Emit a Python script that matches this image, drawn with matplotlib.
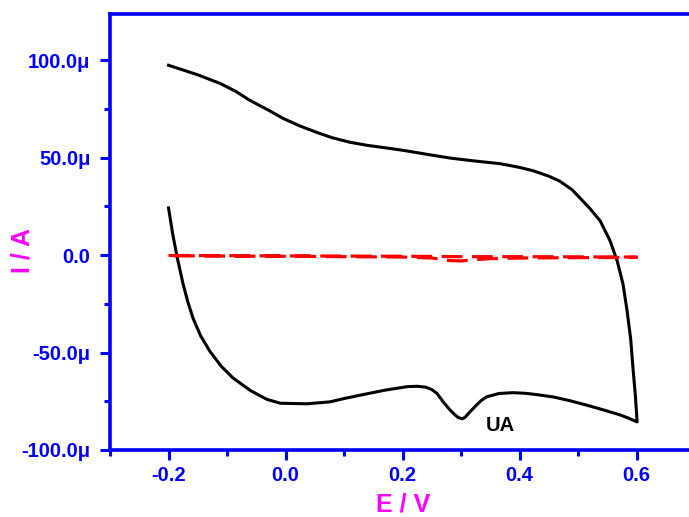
import matplotlib.pyplot as plt
import numpy as np
from matplotlib.ticker import FuncFormatter, MultipleLocator

plt.rcParams['font.family'] = ['Liberation Sans', 'DejaVu Sans']
plt.rcParams['font.weight'] = 'bold'

# UA voltammogram: anodic sweep then return sweep (potential in V, current in uA)
ua_fwd_e = [-0.2, -0.15, -0.112, -0.085, -0.061, -0.03, -0.004, 0.025, 0.054,
            0.08, 0.110, 0.14, 0.167, 0.2, 0.24, 0.281, 0.32, 0.367, 0.40,
            0.423, 0.45, 0.469, 0.49, 0.503, 0.52, 0.538, 0.555, 0.567, 0.577,
            0.584, 0.590, 0.594, 0.598, 0.601]
ua_fwd_i = [97.4, 92.5, 88.1, 84.0, 79.4, 74.5, 70.1, 66.2, 62.9,
            60.2, 57.9, 56.3, 55.2, 53.8, 51.8, 49.8, 48.4, 46.9, 45.0,
            43.3, 40.5, 37.9, 33.5, 29.4, 24.0, 17.5, 7.2, -3.1, -15.0,
            -28.9, -43.0, -58.2, -72.0, -85.6]
ua_rev_e = [0.601, 0.585, 0.572, 0.543, 0.515, 0.486, 0.458, 0.430, 0.41,
            0.389, 0.365, 0.344, 0.335, 0.327, 0.315, 0.307, 0.302, 0.295,
            0.288, 0.281, 0.270, 0.259, 0.25, 0.24, 0.225, 0.208, 0.17, 0.132,
            0.10, 0.076, 0.036, -0.009, -0.032, -0.06, -0.090, -0.11, -0.129,
            -0.145, -0.158, -0.167, -0.175, -0.185, -0.193, -0.2]
ua_rev_i = [-85.6, -83.5, -82.0, -79.4, -77.0, -74.7, -72.8, -71.6, -70.9,
            -70.6, -71.0, -72.7, -74.5, -76.8, -80.5, -83.2, -84.0, -83.3,
            -81.5, -79.4, -75.5, -71.0, -69.0, -67.8, -67.3, -67.5, -69.3, -71.6,
            -73.6, -75.3, -76.3, -76.0, -74.0, -69.5, -63.0, -57.0, -49.5,
            -41.5, -32.5, -24.0, -15.0, -1.5, 11.0, 24.2]

# blank electrode (red dashed)
blank_fwd_e = [-0.2, -0.1, 0.0, 0.1, 0.2, 0.3, 0.4, 0.5, 0.6]
blank_fwd_i = [-0.2, -0.3, -0.4, -0.5, -0.6, -0.8, -0.8, -0.9, -1.0]
blank_rev_e = [0.6, 0.5, 0.4, 0.35, 0.32, 0.30, 0.28, 0.25, 0.2, 0.1, 0.0, -0.1, -0.2]
blank_rev_i = [-1.2, -1.3, -1.5, -1.8, -2.5, -3.0, -2.8, -1.5, -1.0, -0.8, -0.6, -0.5, -0.3]

blue = '#0000ff'
magenta = '#ff00ff'

fig = plt.figure(figsize=(6.89, 5.17), dpi=100)
ax = fig.add_axes([0.1597, 0.1296, 0.8403, 0.8433])

e = np.array(ua_fwd_e + ua_rev_e)
i = np.array(ua_fwd_i + ua_rev_i) * 1e-6
ax.plot(e, i, color='black', lw=2.2, solid_joinstyle='round')

eb = np.array(blank_fwd_e + blank_rev_e)
ib = np.array(blank_fwd_i + blank_rev_i) * 1e-6
ax.plot(eb, ib, color='#ff0000', lw=2.3, dashes=(6.5, 3))

ax.set_xlim(-0.3, 0.6897)
ax.set_ylim(-100e-6, 123.7e-6)

ax.xaxis.set_major_locator(MultipleLocator(0.2))
ax.xaxis.set_minor_locator(MultipleLocator(0.1))
ax.yaxis.set_major_locator(MultipleLocator(50e-6))
ax.yaxis.set_minor_locator(MultipleLocator(25e-6))


def fmt_micro(v, pos):
    if abs(v) < 1e-12:
        return '0.0'
    return f'{v * 1e6:.1f}\u03bc'


ax.yaxis.set_major_formatter(FuncFormatter(fmt_micro))
ax.xaxis.set_major_formatter(FuncFormatter(lambda v, p: f'{v:.1f}'))

ax.spines['right'].set_visible(False)
for s in ['left', 'bottom', 'top']:
    ax.spines[s].set_color(blue)
    ax.spines[s].set_linewidth(2.6)

ax.tick_params(which='both', direction='out', color=blue, width=2.2,
               labelcolor=blue, labelsize=14.5)
ax.tick_params(which='major', length=7.2)
ax.tick_params(which='minor', length=4.3)
ax.tick_params(axis='y', which='major', pad=7)
ax.tick_params(axis='x', which='major', pad=4)
ax.tick_params(top=False, right=False, which='both')
for lbl in ax.get_xticklabels() + ax.get_yticklabels():
    lbl.set_fontweight('bold')

fig.text(0.585, 0.024, 'E / V', color=magenta, fontsize=18, fontweight='bold',
         ha='center', va='center')
fig.text(0.033, 0.516, 'I / A', color=magenta, fontsize=18, fontweight='bold',
         ha='center', va='center', rotation=90)

ax.text(0.368, -87.6e-6, 'UA', color='black', fontsize=14.5, fontweight='bold',
        ha='center', va='center')

fig.savefig('out.png', dpi=100)
